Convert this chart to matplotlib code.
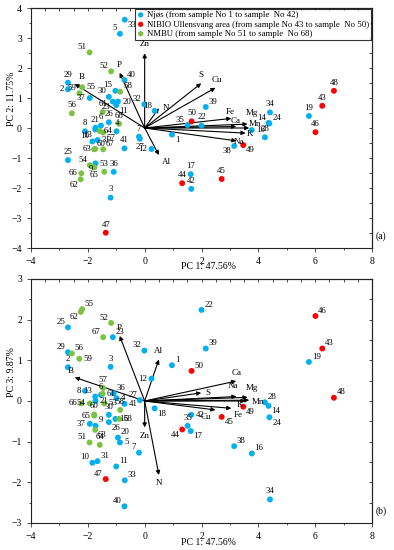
import matplotlib
matplotlib.use("Agg")
import matplotlib.pyplot as plt
import numpy as np
from matplotlib.ticker import MultipleLocator

plt.rcParams['font.family'] = ['Liberation Serif', 'DejaVu Serif']

# ---------------- data ----------------
samples = list(range(1, 69))
pc1 = [0.96, -2.70, -1.20, -0.99, -0.87, -1.54, -0.20, -2.10, -1.73, -1.84,
       -1.00, 0.24, -1.74, 4.36, -1.03, 3.77, 1.62, 0.35, 5.78, -0.94,
       -1.73, 2.00, -1.12, 4.39, -2.70, -1.26, -0.17, 4.23, -2.70, -1.26,
       -1.66, -0.01, -0.70, 4.41, 1.51, -1.09, -1.93, 3.15, 2.15, -0.71,
       -0.71, 1.64,
       6.25, 1.32, 2.71, 6.01, -1.37, 6.66, 3.47, 1.65,
       -1.94, -1.18, -1.42, -1.93, -2.20, -2.56, -1.46, -0.86, -2.30, -1.78,
       -1.48, -2.25, -1.74, -1.58, -1.77, -2.23, -1.46, -0.90]
pc2 = [-0.22, 1.29, -2.32, -0.11, 3.14, 0.08, -0.29, -0.11, -1.18, -0.45,
       0.76, -0.70, -0.05, 0.17, 1.24, -0.07, -1.54, 0.57, 0.40, 0.88,
       0.01, 0.08, 0.88, 0.15, -1.07, 0.19, -0.36, -0.31, 1.51, 1.04,
       -0.40, 0.79, 3.61, 0.52, 0.10, -1.46, 1.00, -0.60, 0.70, 1.60,
       -0.68, -2.03,
       0.74, -1.84, -1.70, -0.14, -3.49, 1.24, -0.57, 0.22,
       2.52, 1.89, -1.46, -1.24, 1.36, 0.49, -0.15, 1.21, 1.16, -0.71,
       0.53, -1.71, -0.70, -0.10, -1.31, -1.51, -0.71, 0.14]
pc3 = [0.88, 0.83, 0.84, 0.07, -1.02, 0.15, -1.27, 0.25, -0.61, -1.52,
       -1.61, 0.55, 0.11, -0.12, -0.44, -1.29, -0.74, -0.18, 0.96, -0.90,
       0.00, 2.24, 1.57, -0.40, 1.81, -0.52, 0.02, -0.03, 1.20, -0.34,
       -1.48, 1.24, -1.95, -2.42, -0.61, 0.19, -0.56, -1.11, 1.29, -2.59,
       -0.07, -0.34,
       1.29, -0.70, -0.39, 2.09, -1.92, 0.08, -0.14, 0.74,
       -1.02, 1.92, -0.06, -0.06, 2.26, 1.17, 0.32, -0.22, 1.04, -0.33,
       0.18, 2.19, -0.71, -1.08, -0.36, -0.06, 1.57, -0.44]
group_names = ["Njøs (from sample No 1 to sample  No 42)",
               "NIBIO Ullensvang area (from sample No 43 to sample  No 50)",
               "NMBU (from sample No 51 to sample  No 68)"]
group_ranges = [(1, 42), (43, 50), (51, 68)]

variables = ["Zn", "P", "B", "N", "Al", "S", "Cu", "Fe", "Mg", "Ca", "Mn", "K", "Na"]
load_pc1 = [0.00, -0.88, -2.46, 0.50, 0.50, 1.99, 2.49, 3.05, 3.62, 3.22, 3.68, 3.55, 3.23]
load_pc2 = [2.49, 1.84, 1.47, 0.66, -0.90, 1.49, 1.34, 0.32, 0.13, 0.05, 0.00, -0.17, -0.43]
load_pc3 = [-0.65, 1.60, 0.58, -1.82, 1.02, 0.20, -0.22, -0.18, 0.09, 0.49, 0.02, 0.00, 0.11]

# ---------------- styling ----------------
colors = ['#00B0F0', '#FF0000', '#7CC242']

# label placement codes for each panel
off = {'ur': (2, 1, 'left', 'bottom'), 'ul': (-2, 1, 'right', 'bottom'),
       'r': (3, 0, 'left', 'center'), 'l': (-3, 0, 'right', 'center'),
       'a': (0, 3, 'center', 'bottom'), 'b': (0, -3, 'center', 'top'),
       'dr': (2, -1, 'left', 'top'), 'dl': (-2, -1, 'right', 'top')}

lab_a = {33: 'dr', 5: 'ul', 51: 'ul', 52: 'ul', 40: 'ur', 29: 'a', 2: 'l', 59: 'ul', 55: 'r',
         37: 'l', 15: 'ul', 58: 'ur', 30: 'ul', 23: 'dl', 20: 'r', 11: 'dr', 32: 'ul', 18: 'ul',
         56: 'a', 61: 'a', 26: 'a', 68: 'a', 4: 'a', 8: 'a', 21: 'a', 6: 'a', 13: 'dl', 64: 'r',
         57: 'dr', 7: 'a', 27: 'b', 1: 'dr', 12: 'l', 41: 'a', 25: 'a', 54: 'ul', 65: 'b',
         66: 'l', 62: 'dl', 53: 'a', 36: 'a', 3: 'a', 47: 'a', 10: 'ul', 63: 'l', 60: 'ur',
         67: 'ur', 31: 'r', 9: 'dl', 39: 'ur', 34: 'a', 14: 'ul', 24: 'ur', 50: 'a', 35: 'ul',
         22: 'a', 16: 'r', 28: 'a', 38: 'dl', 49: 'dr', 17: 'a', 44: 'a', 42: 'a', 45: 'a',
         48: 'a', 43: 'a', 19: 'a', 46: 'a'}
lab_b = {55: 'ur', 62: 'dl', 52: 'ul', 25: 'ul', 67: 'ul', 23: 'ur', 32: 'ul', 29: 'ul',
         56: 'ur', 59: 'r', 1: 'ur', 2: 'a', 3: 'a', 50: 'ur', 12: 'l', 57: 'a', 8: 'l',
         36: 'ur', 27: 'ul', 13: 'ul', 61: 'r', 66: 'l', 54: 'l', 21: 'r', 53: 'r', 41: 'r',
         18: 'dr', 65: 'l', 60: 'a', 30: 'a', 15: 'r', 68: 'r', 58: 'a', 9: 'ur', 37: 'l',
         26: 'dr', 63: 'dr', 20: 'ur', 5: 'r', 51: 'ul', 64: 'a', 7: 'ul', 10: 'ul', 31: 'ur',
         11: 'ur', 47: 'ul', 33: 'ur', 40: 'ul', 44: 'dl', 35: 'a', 17: 'dr', 42: 'r', 22: 'ur',
         46: 'ur', 39: 'ur', 43: 'ur', 19: 'ur', 48: 'ur', 28: 'ur', 14: 'dr', 49: 'dr',
         45: 'dr', 24: 'dr', 38: 'ur', 16: 'ur', 34: 'a', 4: 'r', 6: 'a'}

# variable label placement (points offset) per panel
var_a = {"Zn": (0, 4, 'center', 'bottom'), "P": (0, 3, 'center', 'bottom'),
         "B": (3, 2, 'left', 'bottom'), "N": (3, 0, 'left', 'center'),
         "Al": (2, -2, 'left', 'top'), "S": (0, 3, 'center', 'bottom'),
         "Cu": (1, 3, 'center', 'bottom'), "Fe": (-1, 2, 'center', 'bottom'),
         "Mg": (-1, 5, 'left', 'bottom'), "Ca": (-4, 1, 'left', 'bottom'),
         "Mn": (0, 0, 'left', 'bottom'), "K": (1, -1, 'left', 'center'),
         "Na": (-2, -1, 'left', 'center')}
var_b = {"Zn": (0, -3, 'center', 'top'), "P": (0, 3, 'center', 'bottom'),
         "B": (-1, 2, 'right', 'bottom'), "N": (0, -3, 'center', 'top'),
         "Al": (0, 3, 'center', 'bottom'), "S": (3, 0, 'left', 'center'),
         "Cu": (-3, -2, 'right', 'top'), "Fe": (2, -2, 'left', 'top'),
         "Mg": (-1, 4, 'left', 'bottom'), "Ca": (0, 3, 'center', 'bottom'),
         "Mn": (2, -1, 'left', 'center'), "K": (-6, -3, 'left', 'center'),
         "Na": (-6, 5, 'left', 'bottom')}

W, H = 394, 550
fig = plt.figure(figsize=(W / 100, H / 100), dpi=100)
axA = fig.add_axes([31 / W, 1 - 248 / H, 341 / W, 240 / H])
axB = fig.add_axes([31 / W, 1 - 523 / H, 341 / W, 244 / H])

pc1a = np.array(pc1)
for ax, ys, labs, vy, vlab, ylim, ylabel, tag in [
        (axA, np.array(pc2), lab_a, load_pc2, var_a, (-4, 4), "PC 2: 11.75%", "(a)"),
        (axB, np.array(pc3), lab_b, load_pc3, var_b, (-3, 3), "PC 3: 9.87%", "(b)")]:
    # arrows
    for v, lx, ly in zip(variables, load_pc1, vy):
        ax.annotate('', xy=(lx, ly), xytext=(0, 0),
                    arrowprops=dict(arrowstyle='-|>', lw=0.8, color='black',
                                    mutation_scale=6, shrinkA=0, shrinkB=0), zorder=2)
        dx, dy, ha, va = vlab[v]
        ax.annotate(v, xy=(lx, ly), xytext=(dx, dy), textcoords='offset points',
                    ha=ha, va=va, fontsize=6.5, zorder=4)
    # points
    for gi, (lo, hi) in enumerate(group_ranges):
        idx = [i for i, s in enumerate(samples) if lo <= s <= hi]
        ax.scatter(pc1a[idx], ys[idx], s=18, color=colors[gi], edgecolors='none',
                   zorder=3, label=group_names[gi])
    for i, s in enumerate(samples):
        dx, dy, ha, va = off[labs.get(s, 'ur')]
        ax.annotate(str(s), xy=(pc1a[i], ys[i]), xytext=(dx, dy), textcoords='offset points',
                    ha=ha, va=va, fontsize=6.3, zorder=4)
    ax.set_xlim(-4, 8)
    ax.set_ylim(*ylim)
    ax.xaxis.set_major_locator(MultipleLocator(2))
    ax.yaxis.set_major_locator(MultipleLocator(1))
    ax.xaxis.set_minor_locator(MultipleLocator(1))
    ax.yaxis.set_minor_locator(MultipleLocator(0.5))
    ax.tick_params(which='both', direction='out', labelsize=7, width=0.6, color='#333333')
    ax.tick_params(which='major', length=3)
    ax.tick_params(which='minor', length=1.5)
    for sp in ax.spines.values():
        sp.set_linewidth(0.8)
        sp.set_color('#222222')
    sx = ax.secondary_xaxis('top')
    sx.xaxis.set_major_locator(MultipleLocator(1))
    sx.xaxis.set_minor_locator(MultipleLocator(0.5))
    sx.tick_params(which='both', direction='in', labeltop=False, length=2, width=0.5)
    sy = ax.secondary_yaxis('right')
    sy.yaxis.set_major_locator(MultipleLocator(0.5))
    sy.tick_params(which='both', direction='in', labelright=False, length=2, width=0.5)
    ax.set_xlabel("PC 1: 47.56%", fontsize=7, labelpad=1)
    ax.xaxis.set_label_coords(0.52, -0.06)
    ax.set_ylabel(ylabel, fontsize=7, labelpad=1)
    ax.yaxis.set_label_coords(-0.045, 0.62)
    ax.text(1.012, 0.05, tag, transform=ax.transAxes, fontsize=7, ha='left', va='center')

leg = axA.legend(loc='upper right', bbox_to_anchor=(1.0, 1.0), fontsize=6.3, frameon=True,
                 fancybox=False, edgecolor='black', handletextpad=0.3, borderpad=0.25,
                 labelspacing=0.15, handlelength=0.8, borderaxespad=0.1, markerscale=0.9)
leg.get_frame().set_linewidth(0.8)

fig.savefig("out.png", dpi=100)
